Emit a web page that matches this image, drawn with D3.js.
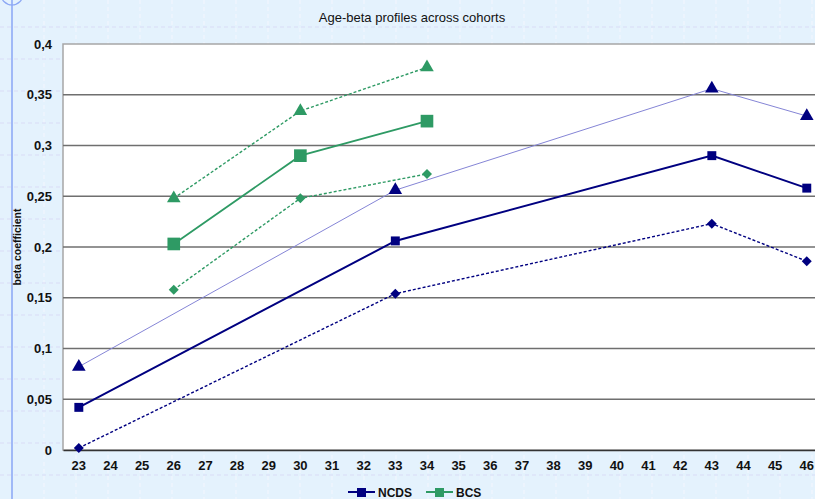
<!DOCTYPE html>
<html>
<head>
<meta charset="utf-8">
<script src="https://cdn.jsdelivr.net/npm/d3@7/dist/d3.min.js"></script>
<style>
  html, body { margin: 0; padding: 0; background: #e4f2fd; }
  svg { display: block; font-family: "Liberation Sans", Arial, sans-serif; }
</style>
</head>
<body>
<svg id="chart" width="815" height="499"></svg>
<script>
// Ages on the category axis
const ages = d3.range(23, 47);
const yTicks = [0, 0.05, 0.1, 0.15, 0.2, 0.25, 0.3, 0.35, 0.4];

// NCDS cohort: estimate with upper and lower bounds
const ncdsAges  = [23, 33, 43, 46];
const ncdsBeta  = [0.042, 0.206, 0.290, 0.258];
const ncdsUpper = [0.082, 0.256, 0.356, 0.329];
const ncdsLower = [0.002, 0.154, 0.223, 0.186];

// BCS cohort: estimate with upper and lower bounds
const bcsAges  = [26, 30, 34];
const bcsBeta  = [0.203, 0.290, 0.324];
const bcsUpper = [0.248, 0.334, 0.377];
const bcsLower = [0.158, 0.248, 0.272];

const W = 815, H = 499;
const svg = d3.select("#chart");

// notebook-style background grid
const bg = svg.append("g");
bg.append("rect").attr("width", W).attr("height", H).attr("fill", "#e4f2fd");
for (let gx = 44; gx < W; gx += 32) {
  bg.append("line").attr("x1", gx).attr("x2", gx).attr("y1", 0).attr("y2", H)
    .attr("stroke", "#f4f6fe").attr("stroke-width", 1).attr("stroke-dasharray", "4,3");
}
for (let gy = 27; gy < H; gy += 32) {
  bg.append("line").attr("x1", 0).attr("x2", W).attr("y1", gy).attr("y2", gy)
    .attr("stroke", "#d9dcf6").attr("stroke-width", 1).attr("stroke-dasharray", "4,3");
}
bg.append("line").attr("x1", 12).attr("x2", 12).attr("y1", 0).attr("y2", H)
  .attr("stroke", "#8aa6f4").attr("stroke-width", 1.5);
bg.append("circle").attr("cx", 12).attr("cy", -6).attr("r", 11)
  .attr("fill", "none").attr("stroke", "#8aa6f4").attr("stroke-width", 1.2);

// plot geometry
const plotLeft = 63, plotTop = 44, plotBottom = 450;
const step = 31.65;
const x = d3.scaleBand().domain(ages).range([plotLeft, plotLeft + step * ages.length]).padding(0);
const y = d3.scaleLinear().domain([0, 0.4]).range([plotBottom, plotTop]);
const cx = a => x(a) + x.bandwidth() / 2;

// plot area
svg.append("rect").attr("x", plotLeft).attr("y", plotTop)
  .attr("width", W - plotLeft + 10).attr("height", plotBottom - plotTop)
  .attr("fill", "#ffffff").attr("stroke", "#a6a6a6").attr("stroke-width", 1.5);

// horizontal gridlines
svg.append("g").selectAll("line").data(yTicks.filter(t => t > 0 && t < 0.4)).join("line")
  .attr("x1", plotLeft).attr("x2", W)
  .attr("y1", d => y(d)).attr("y2", d => y(d))
  .attr("stroke", "#6f6f6f").attr("stroke-width", 1.3);

// x axis
const xAxis = svg.append("g").attr("transform", `translate(0,${plotBottom})`)
  .call(d3.axisBottom(x).tickSize(0).tickPadding(11));
xAxis.select(".domain").attr("stroke", "#333").attr("stroke-width", 1.5);
xAxis.selectAll("text").attr("font-size", 13).attr("font-weight", "bold")
  .attr("fill", "#111").attr("font-family", "Liberation Sans, Arial, sans-serif");

// y axis
const fmt = d => (d === 0 ? "0" : String(d).replace(".", ","));
const yAxis = svg.append("g").attr("transform", `translate(${plotLeft},0)`)
  .call(d3.axisLeft(y).tickValues(yTicks).tickFormat(fmt).tickSize(0).tickPadding(11));
yAxis.select(".domain").remove();
yAxis.selectAll("text").attr("font-size", 13).attr("font-weight", "bold")
  .attr("fill", "#111").attr("font-family", "Liberation Sans, Arial, sans-serif");

// axis title
svg.append("text").attr("transform", `translate(21,${(plotTop + plotBottom) / 2}) rotate(-90)`)
  .attr("text-anchor", "middle").attr("font-size", 10.5).attr("font-weight", "bold")
  .attr("fill", "#111").text("beta coefficient");

// chart title
svg.append("text").attr("x", 412).attr("y", 22).attr("text-anchor", "middle")
  .attr("font-size", 13).attr("fill", "#111").text("Age-beta profiles across cohorts");

const NAVY = "#000080", LIGHT = "#8585d6", GREEN = "#2e9a64";

// shape: "tri", "diamond" (square turned 45°) or "square"
function draw(agesArr, vals, lineColor, markColor, width, dash, shape, size) {
  const pts = agesArr.map((a, i) => [cx(a), y(vals[i])]);
  svg.append("path").attr("d", d3.line()(pts)).attr("fill", "none")
    .attr("stroke", lineColor).attr("stroke-width", width)
    .attr("stroke-dasharray", dash || null);
  const type = shape === "tri" ? d3.symbolTriangle : d3.symbolSquare;
  const rot = shape === "diamond" ? 45 : 0;
  svg.append("g").selectAll("path").data(pts).join("path")
    .attr("transform", d => `translate(${d[0]},${d[1]}) rotate(${rot})`)
    .attr("d", d3.symbol().type(type).size(size)).attr("fill", markColor);
}

// NCDS
draw(ncdsAges, ncdsUpper, LIGHT, NAVY, 1, null, "tri", 80);
draw(ncdsAges, ncdsLower, NAVY, NAVY, 1.4, "3,2", "diamond", 50);
draw(ncdsAges, ncdsBeta, NAVY, NAVY, 2, null, "square", 80);

// BCS
draw(bcsAges, bcsUpper, GREEN, GREEN, 1.4, "3,2", "tri", 80);
draw(bcsAges, bcsLower, GREEN, GREEN, 1.4, "3,2", "diamond", 50);
draw(bcsAges, bcsBeta, GREEN, GREEN, 1.8, null, "square", 160);

// legend
const legend = [{ name: "NCDS", color: NAVY, lx: 348 }, { name: "BCS", color: GREEN, lx: 426 }];
const lg = svg.append("g");
legend.forEach(l => {
  lg.append("line").attr("x1", l.lx).attr("x2", l.lx + 27).attr("y1", 492).attr("y2", 492)
    .attr("stroke", l.color).attr("stroke-width", 2);
  lg.append("rect").attr("x", l.lx + 9).attr("y", 488).attr("width", 9).attr("height", 9)
    .attr("fill", l.color);
  lg.append("text").attr("x", l.lx + 30).attr("y", 497).attr("font-size", 12)
    .attr("font-weight", "bold").attr("fill", "#111").text(l.name);
});
</script>
</body>
</html>
